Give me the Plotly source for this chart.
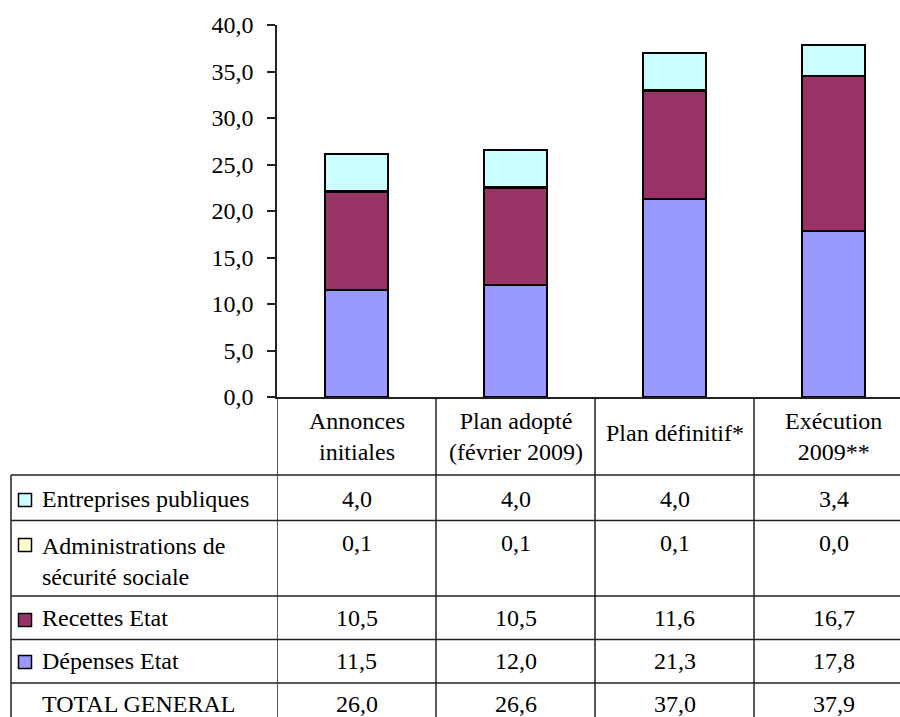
import plotly.graph_objects as go

# ---------------- data ----------------
categories = ["Annonces<br>initiales", "Plan adopté<br>(février 2009)", "Plan définitif*", "Exécution<br>2009**"]
series_names = ["Entreprises publiques", "Administrations de<br>sécurité sociale", "Recettes Etat", "Dépenses Etat"]
entreprises = [4.0, 4.0, 4.0, 3.4]
administrations = [0.1, 0.1, 0.1, 0.0]
recettes = [10.5, 10.5, 11.6, 16.7]
depenses = [11.5, 12.0, 21.3, 17.8]
totals = [26.0, 26.6, 37.0, 37.9]
total_label = "TOTAL GENERAL"
y_tick_values = [0, 5, 10, 15, 20, 25, 30, 35, 40]
y_tick_labels = ["0,0", "5,0", "10,0", "15,0", "20,0", "25,0", "30,0", "35,0", "40,0"]

# ---------------- style ----------------
colors = {
    "Entreprises publiques": "#CCFFFF",
    "Administrations de<br>sécurité sociale": "#FFFFCC",
    "Recettes Etat": "#993366",
    "Dépenses Etat": "#9999FF",
}
FONT = "Liberation Serif"
FS = 24
LINE_C = "#222222"

W, H = 900, 717
PLOT_L, PLOT_R, PLOT_T, PLOT_B = 277, 900, 25, 397
COL_W = 159.0


def px_x(px):
    return (px - PLOT_L) / (PLOT_R - PLOT_L)


def px_y(py):
    return (PLOT_B - py) / (PLOT_B - PLOT_T)


def fmt(v):
    return f"{v:.1f}".replace(".", ",")


x_idx = list(range(len(categories)))

fig = go.Figure()
stack = [
    ("Dépenses Etat", depenses),
    ("Recettes Etat", recettes),
    ("Administrations de<br>sécurité sociale", administrations),
    ("Entreprises publiques", entreprises),
]
for name, vals in stack:
    fig.add_trace(go.Bar(
        x=x_idx, y=vals, name=name, width=0.4,
        marker=dict(color=colors[name], line=dict(color="black", width=2)),
        showlegend=False, hoverinfo="y+name",
    ))

shapes = []
annotations = []

# table geometry (pixels)
row_lines = [475, 520.5, 596, 639.5, 683, 740]
table_left = 11
row_rows = [
    # (label, values, label center y, value center y, square center y)
    ("Entreprises publiques", entreprises, 499, 499, 500),
    ("Administrations de<br>sécurité sociale", administrations, 561, 543, 545),
    ("Recettes Etat", recettes, 618, 618, 620),
    ("Dépenses Etat", depenses, 661, 661, 662),
]

# horizontal table lines
for ry in row_lines[:-1]:
    shapes.append(dict(type="line", xref="paper", yref="paper",
                       x0=px_x(table_left), x1=1, y0=px_y(ry), y1=px_y(ry),
                       line=dict(color=LINE_C, width=1.5)))
# left border of table
shapes.append(dict(type="line", xref="paper", yref="paper",
                   x0=px_x(table_left), x1=px_x(table_left),
                   y0=px_y(row_lines[0]), y1=px_y(row_lines[-1]),
                   line=dict(color=LINE_C, width=1.5)))
# vertical column lines (through header and table)
for i in range(len(categories)):
    xb = i - 0.5
    shapes.append(dict(type="line", xref="x", yref="paper",
                       x0=xb, x1=xb, y0=0, y1=px_y(row_lines[-1]),
                       line=dict(color=LINE_C, width=1.5)))

# header category labels
for i, c in enumerate(categories):
    cy = 437 if "<br>" in c else 433
    annotations.append(dict(x=i, y=px_y(cy), xref="x", yref="paper",
                            text=c, showarrow=False, xanchor="center", yanchor="middle",
                            font=dict(family=FONT, size=FS, color="black")))

# table rows
for name, vals, ly, vy, sy in row_rows:
    shapes.append(dict(type="rect", xref="paper", yref="paper",
                       x0=px_x(18.5), x1=px_x(31.5), y0=px_y(sy - 6.5), y1=px_y(sy + 6.5),
                       fillcolor=colors[name], line=dict(color="black", width=1.5)))
    annotations.append(dict(x=px_x(40), y=px_y(ly), xref="paper", yref="paper",
                            text=name, showarrow=False, xanchor="left", yanchor="middle",
                            align="left",
                            font=dict(family=FONT, size=FS, color="black")))
    for i, v in enumerate(vals):
        annotations.append(dict(x=i, y=px_y(vy), xref="x", yref="paper",
                                text=fmt(v), showarrow=False, xanchor="center", yanchor="middle",
                                font=dict(family=FONT, size=FS, color="black")))

# total row
annotations.append(dict(x=px_x(40), y=px_y(704), xref="paper", yref="paper",
                        text=total_label, showarrow=False, xanchor="left", yanchor="middle",
                        font=dict(family=FONT, size=FS, color="black")))
for i, v in enumerate(totals):
    annotations.append(dict(x=i, y=px_y(704), xref="x", yref="paper",
                            text=fmt(v), showarrow=False, xanchor="center", yanchor="middle",
                            font=dict(family=FONT, size=FS, color="black")))

fig.update_layout(
    width=W, height=H,
    margin=dict(l=PLOT_L, r=W - PLOT_R, t=PLOT_T, b=H - PLOT_B, pad=0),
    paper_bgcolor="white", plot_bgcolor="white",
    barmode="stack",
    font=dict(family=FONT, size=FS, color="black"),
    showlegend=False,
    xaxis=dict(range=[-0.5, -0.5 + (PLOT_R - PLOT_L) / COL_W], showticklabels=False,
               showgrid=False, zeroline=False, showline=True, linecolor=LINE_C, linewidth=1.5,
               ticks="", fixedrange=True),
    yaxis=dict(range=[0, 40], tickvals=y_tick_values, ticktext=y_tick_labels,
               ticks="outside", ticklen=8, tickwidth=1.5, tickcolor=LINE_C,
               showline=True, linecolor=LINE_C, linewidth=1.5,
               showgrid=False, zeroline=False, ticklabelstandoff=9,
               tickfont=dict(family=FONT, size=FS, color="black"), fixedrange=True),
    shapes=shapes,
    annotations=annotations,
)

fig.write_html(
    "out.html",
    config={"displayModeBar": False},
    post_script="document.body.style.margin='0';document.body.style.padding='0';",
)
